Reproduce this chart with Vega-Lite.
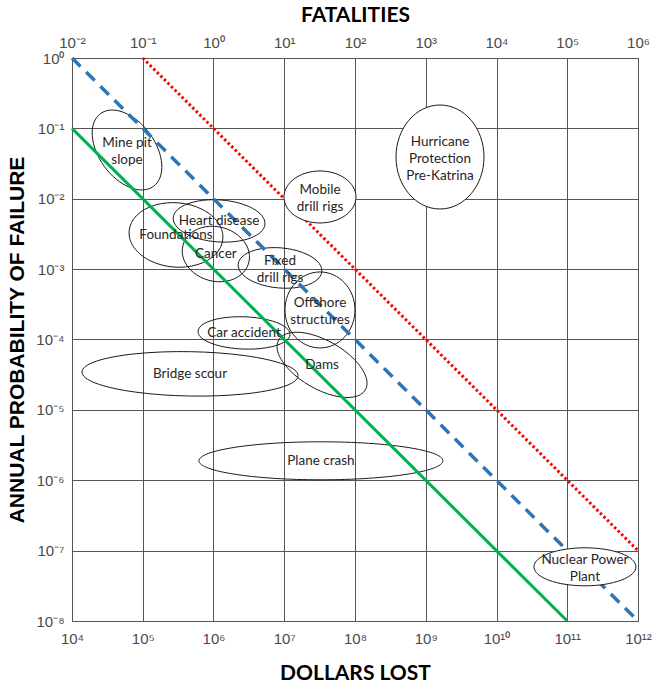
{
  "$schema": "https://vega.github.io/schema/vega-lite/v6.json",
  "width": 566,
  "height": 563,
  "autosize": {"type": "none"},
  "padding": {"left": 72, "top": 58, "right": 22, "bottom": 65},
  "background": "white",
  "config": {
    "view": {"stroke": "#505050", "strokeWidth": 1},
    "axis": {
      "domain": false,
      "ticks": false,
      "labelFont": "Liberation Sans",
      "labelFontSize": 15,
      "labelColor": "#4a4a4a",
      "labelPadding": 8,
      "labelFlush": false,
      "labelOverlap": false,
      "labelBound": false,
      "gridColor": "#555555",
      "gridOpacity": 1,
      "gridWidth": 1,
      "titleColor": "black",
      "titleFontWeight": "bold",
      "titleFontSize": 21
    }
  },
  "datasets": {
    "ellipses": [
      {"event": "Mine pit slope", "label": "Mine pit\nslope", "dollars": 59900, "probability": 0.0493},
      {"event": "Foundations", "label": "Foundations", "dollars": 295000, "probability": 0.00306},
      {"event": "Heart disease", "label": "Heart disease", "dollars": 1200000, "probability": 0.00484},
      {"event": "Cancer", "label": "Cancer", "dollars": 1080000, "probability": 0.00164},
      {"event": "Fixed drill rigs", "label": "Fixed\ndrill rigs", "dollars": 8710000, "probability": 0.00104},
      {"event": "Offshore structures", "label": "Offshore\nstructures", "dollars": 32000000, "probability": 0.000263},
      {"event": "Car accident", "label": "Car accident", "dollars": 2700000, "probability": 0.000124},
      {"event": "Dams", "label": "Dams", "dollars": 34200000, "probability": 0.0000436},
      {"event": "Bridge scour", "label": "Bridge scour", "dollars": 466000, "probability": 0.0000325},
      {"event": "Plane crash", "label": "Plane crash", "dollars": 33000000, "probability": 0.00000189},
      {"event": "Hurricane Protection Pre-Katrina", "label": "Hurricane\nProtection\nPre-Katrina", "dollars": 1590000000, "probability": 0.0392},
      {"event": "Mobile drill rigs", "label": "Mobile\ndrill rigs", "dollars": 32000000, "probability": 0.0106},
      {"event": "Nuclear Power Plant", "label": "Nuclear Power\nPlant", "dollars": 178000000000, "probability": 0.0000000589}
    ],
    "lines": [
      {"series": "green", "dollars": 10000, "probability": 0.1},
      {"series": "green", "dollars": 100000000000, "probability": 0.00000001},
      {"series": "blue", "dollars": 10000, "probability": 1},
      {"series": "blue", "dollars": 1000000000000, "probability": 0.00000001},
      {"series": "red", "dollars": 100000, "probability": 1},
      {"series": "red", "dollars": 1000000000000, "probability": 0.0000001}
    ]
  },
  "resolve": {"axis": {"x": "independent", "y": "independent"}},
  "layer": [
    {
      "data": {"name": "ellipses"},
      "transform": [{"filter": "indexof(['Hurricane Protection Pre-Katrina','Mobile drill rigs','Nuclear Power Plant'], datum.event) < 0"}],
      "mark": {"type": "point", "size": 4, "filled": false, "stroke": "#1a1a1a", "strokeWidth": 1, "opacity": 1},
      "encoding": {
        "x": {
          "field": "dollars", "type": "quantitative",
          "scale": {"type": "log", "domain": [10000, 1000000000000], "nice": false},
          "axis": {
            "orient": "bottom", "title": "DOLLARS LOST", "titleFont": "Lato", "titlePadding": 16, "labelPadding": 10, "grid": true,
            "values": [10000, 100000, 1000000, 10000000, 100000000, 1000000000, 10000000000, 100000000000, 1000000000000],
            "labelExpr": "'10' + (round(log(datum.value)/LN10) >= 10 ? '¹' : '') + substring('⁰¹²³⁴⁵⁶⁷⁸⁹', round(log(datum.value)/LN10) % 10, round(log(datum.value)/LN10) % 10 + 1)"
          }
        },
        "y": {
          "field": "probability", "type": "quantitative",
          "scale": {"type": "log", "domain": [0.00000001, 1], "nice": false},
          "axis": {
            "orient": "left", "title": "ANNUAL PROBABILITY OF FAILURE", "titleFont": "Liberation Sans", "titlePadding": 8, "grid": true,
            "values": [0.00000001, 0.0000001, 0.000001, 0.00001, 0.0001, 0.001, 0.01, 0.1, 1],
            "labelExpr": "'10' + (datum.value < 0.5 ? '⁻' : '') + substring('⁰¹²³⁴⁵⁶⁷⁸⁹', abs(round(log(datum.value)/LN10)), abs(round(log(datum.value)/LN10)) + 1)"
          }
        },
        "shape": {
          "field": "event", "type": "nominal", "legend": null,
          "scale": {
            "domain": ["Mine pit slope", "Foundations", "Heart disease", "Cancer", "Fixed drill rigs", "Offshore structures", "Car accident", "Dams", "Bridge scour", "Plane crash", "Hurricane Protection Pre-Katrina", "Mobile drill rigs", "Nuclear Power Plant"],
            "range": [
              "M26.45,36.41A45,28,54,1,1,-26.45,-36.41A45,28,54,1,1,26.45,36.41Z",
              "M46.82,4.1A47,32,5,1,1,-46.82,-4.1A47,32,5,1,1,46.82,4.1Z",
              "M45.89,3.21A46,21,4,1,1,-45.89,-3.21A46,21,4,1,1,45.89,3.21Z",
              "M32.84,8.8A34,27,15,1,1,-32.84,-8.8A34,27,15,1,1,32.84,8.8Z",
              "M41.84,3.66A42,20,5,1,1,-41.84,-3.66A42,20,5,1,1,41.84,3.66Z",
              "M35,0A35,38,0,1,1,-35,0A35,38,0,1,1,35,0Z",
              "M45.97,1.61A46,16,2,1,1,-45.97,-1.61A46,16,2,1,1,45.97,1.61Z",
              "M43.3,25A50,24,30,1,1,-43.3,-25A50,24,30,1,1,43.3,25Z",
              "M107.98,1.88A108,22,1,1,1,-107.98,-1.88A108,22,1,1,1,107.98,1.88Z",
              "M122,0A122,19,0,1,1,-122,0A122,19,0,1,1,122,0Z",
              "M44,0A44,52,0,1,1,-44,0A44,52,0,1,1,44,0Z",
              "M36,0A36,26,0,1,1,-36,0A36,26,0,1,1,36,0Z",
              "M51,0A51,19,0,1,1,-51,0A51,19,0,1,1,51,0Z"
            ]
          }
        }
      }
    },
    {
      "data": {"name": "lines"},
      "transform": [{"filter": "datum.series == 'green'"}],
      "mark": {"type": "line", "color": "#00b050", "strokeWidth": 3},
      "encoding": {
        "x": {"field": "dollars", "type": "quantitative", "axis": null},
        "y": {"field": "probability", "type": "quantitative", "axis": null}
      }
    },
    {
      "data": {"name": "lines"},
      "transform": [{"filter": "datum.series == 'blue'"}],
      "mark": {"type": "line", "color": "#2e75b6", "strokeWidth": 3.5, "strokeDash": [12, 8]},
      "encoding": {
        "x": {"field": "dollars", "type": "quantitative", "axis": null},
        "y": {"field": "probability", "type": "quantitative", "axis": null}
      }
    },
    {
      "data": {"name": "lines"},
      "transform": [{"filter": "datum.series == 'red'"}],
      "mark": {"type": "line", "color": "#ff0000", "strokeWidth": 3, "strokeDash": [2.5, 2.5]},
      "encoding": {
        "x": {"field": "dollars", "type": "quantitative", "axis": null},
        "y": {"field": "probability", "type": "quantitative", "axis": null}
      }
    },
    {
      "data": {"name": "ellipses"},
      "transform": [{"filter": "indexof(['Hurricane Protection Pre-Katrina','Mobile drill rigs','Nuclear Power Plant'], datum.event) >= 0"}],
      "mark": {"type": "point", "size": 4, "filled": true, "fill": "white", "stroke": "#1a1a1a", "strokeWidth": 1, "opacity": 1},
      "encoding": {
        "x": {"field": "dollars", "type": "quantitative", "axis": null},
        "y": {"field": "probability", "type": "quantitative", "axis": null},
        "shape": {"field": "event", "type": "nominal", "legend": null}
      }
    },
    {
      "data": {"name": "ellipses"},
      "transform": [{"filter": "length(split(datum.label, '\\n')) == 1"}],
      "mark": {"type": "text", "font": "Lato", "fontSize": 13.5, "color": "#262626", "align": "center", "baseline": "middle"},
      "encoding": {
        "x": {"field": "dollars", "type": "quantitative", "axis": null},
        "y": {"field": "probability", "type": "quantitative", "axis": null},
        "text": {"field": "label"}
      }
    },
    {
      "data": {"name": "ellipses"},
      "transform": [{"filter": "length(split(datum.label, '\\n')) == 2"}],
      "mark": {"type": "text", "font": "Lato", "fontSize": 13.5, "color": "#262626", "lineBreak": "\n", "lineHeight": 17, "align": "center", "baseline": "middle", "dy": -7},
      "encoding": {
        "x": {"field": "dollars", "type": "quantitative", "axis": null},
        "y": {"field": "probability", "type": "quantitative", "axis": null},
        "text": {"field": "label"}
      }
    },
    {
      "data": {"name": "ellipses"},
      "transform": [{"filter": "length(split(datum.label, '\\n')) == 3"}],
      "mark": {"type": "text", "font": "Lato", "fontSize": 13.5, "color": "#262626", "lineBreak": "\n", "lineHeight": 17, "align": "center", "baseline": "middle", "dy": -15},
      "encoding": {
        "x": {
          "field": "dollars", "type": "quantitative",
          "axis": {
            "orient": "top", "title": "FATALITIES", "titleFont": "Lato", "titlePadding": 10, "grid": false,
            "values": [10000, 100000, 1000000, 10000000, 100000000, 1000000000, 10000000000, 100000000000, 1000000000000],
            "labelExpr": "'10' + (datum.value < 500000 ? '⁻' : '') + substring('⁰¹²³⁴⁵⁶⁷⁸⁹', abs(round(log(datum.value)/LN10) - 6), abs(round(log(datum.value)/LN10) - 6) + 1)"
          }
        },
        "y": {"field": "probability", "type": "quantitative", "axis": null},
        "text": {"field": "label"}
      }
    }
  ]
}
